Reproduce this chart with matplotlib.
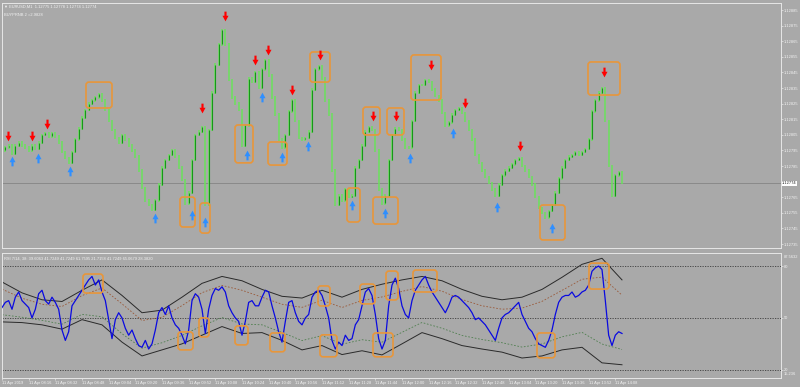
import numpy as np
import matplotlib
matplotlib.use('Agg')
import matplotlib.pyplot as plt
import matplotlib.transforms as mtransforms
from matplotlib.patches import FancyBboxPatch

plt.rcParams['font.family'] = 'Liberation Sans'

# EURUSD M1 chart, 11 Apr 2019, drawn as 2-minute bars
BASE = 1.12700          # prices below are stored in points above this
bar_min = np.arange(0, 374, 2)   # minutes after 08:00

close_pts = [
    95, 97, 98, 93, 98, 100, 98, 97, 95, 98,
    96, 100, 105, 106, 104, 106, 104, 100, 94, 90,
    87, 94, 102, 109, 116, 121, 125, 127, 129, 131,
    127, 121, 114, 108, 103, 100, 105, 102, 98, 95,
    91, 82, 71, 63, 60, 57, 63, 73, 84, 89,
    92, 95, 91, 84, 76, 61, 68, 89, 105, 107,
    110, 60, 108, 132, 150, 163, 172, 163, 140, 129,
    125, 121, 98, 111, 141, 139, 145, 135, 147, 153,
    143, 129, 118, 102, 97, 105, 120, 127, 114, 103,
    102, 103, 107, 134, 147, 149, 141, 127, 118, 82,
    60, 66, 63, 70, 65, 66, 84, 89, 98, 107,
    110, 108, 95, 70, 61, 66, 89, 105, 109, 108,
    102, 97, 97, 114, 132, 137, 137, 140, 139, 134,
    130, 127, 119, 111, 113, 118, 121, 122, 119, 114,
    108, 102, 92, 87, 82, 78, 74, 70, 66, 73,
    79, 82, 84, 86, 89, 90, 85, 82, 78, 73,
    65, 58, 55, 52, 56, 60, 68, 77, 84, 89,
    91, 92, 94, 92, 94, 96, 102, 120, 127, 132,
    135, 114, 85, 66, 79, 81, 74,
]

rsi = [
    56, 59, 60, 55, 62, 65, 60, 58, 56, 50,
    55, 64, 66, 60, 58, 62, 59, 55, 43, 37,
    42, 57, 60, 63, 66, 69, 72, 74, 69, 72,
    65, 60, 49, 38, 49, 53, 50, 44, 40, 43,
    38, 34, 33, 37, 32, 35, 43, 53, 56, 52,
    57, 50, 46, 44, 40, 35, 43, 60, 64, 62,
    55, 41, 55, 63, 67, 66, 68, 65, 57, 53,
    50, 48, 40, 48, 59, 60, 57, 57, 62, 66,
    65, 57, 50, 42, 36, 48, 59, 60, 53, 48,
    46, 50, 52, 62, 65, 66, 63, 57, 50, 37,
    32, 36, 34, 40, 37, 38, 46, 49, 57, 65,
    67, 63, 52, 38, 32, 37, 57, 69, 73, 67,
    57, 52, 50, 60, 66, 69, 72, 74, 69, 65,
    62, 59, 56, 53, 57, 62, 63, 62, 60, 58,
    56, 53, 49, 50, 48, 46, 43, 40, 37, 44,
    50, 52, 53, 55, 57, 59, 52, 48, 44, 42,
    38, 35, 34, 33, 37, 43, 52, 59, 62, 63,
    63, 65, 62, 63, 65, 66, 69, 77, 79, 80,
    78, 60, 40, 34, 40, 42, 41,
]

# envelope around the RSI line
band_min = np.arange(0, 384, 12)
band_up = [70.8, 64.5, 60.5, 59.5, 66, 72, 63, 53, 54.5, 62, 70, 74, 71.5, 66.5, 62.5, 61.5,
           66, 62, 66.5, 69.5, 72, 74, 71.5, 66.5, 62.5, 60.5, 62, 66.5, 73.5, 81, 84.5, 72]
band_lo = [47.7, 47.3, 46, 43.5, 49, 46, 36, 28, 31.5, 35, 40, 45, 41, 41.5, 37, 31.5,
           34, 28.8, 31, 28.6, 35, 41.5, 38, 34, 32, 30.2, 26.8, 28, 31.5, 33, 24, 22.9]

# signal arrows (minute, points)
sell_min = [3.6, 18, 27, 120, 133.8, 151.8, 159.6, 174, 190.8, 222.6, 236.4, 257.4, 277.8, 310.8, 361.2]
sell_pts = [104, 104, 112, 122, 181, 153, 159.4, 134, 156, 117, 117, 150, 125.4, 98, 145.3]
buy_min = [6, 21.6, 40.8, 91.8, 114, 121.8, 147, 156, 168, 183.6, 210, 229.8, 244.8, 270.6, 297, 330]
buy_pts = [88, 90, 82, 51.7, 53.6, 49, 92, 129, 91, 98, 60, 55, 90, 106, 59, 45]

# highlighted zones (start min, end min, low, high)
price_boxes = [
    (50.4, 66, 122.2, 138.8), (106.8, 115.8, 45.9, 65.1), (118.8, 124.8, 42, 61.3),
    (139.8, 150.6, 87, 111.3), (159.6, 171, 85.6, 100.4), (184.8, 196.8, 138.8, 158.1),
    (207, 214.8, 49.1, 70.9), (216.6, 226.8, 104.9, 122.8), (222.6, 237.6, 47.8, 65.1),
    (231, 241.2, 104.9, 122.2), (245.4, 263.4, 127.3, 156.2), (322.8, 337.8, 37.6, 60),
    (351.6, 370.8, 130.5, 151.7),
]
rsi_boxes = [
    (48.6, 60.6, 64.4, 75.4), (105.6, 114.6, 31.5, 41.9), (118.2, 124.2, 39, 50),
    (139.8, 147.6, 34.4, 45.4), (160.8, 169.8, 30.4, 41.3), (189.6, 196.8, 56.9, 68.5),
    (190.8, 201, 27.5, 40.2), (214.8, 223.8, 58.1, 69.6), (222.6, 234.6, 27.5, 41.3),
    (230.4, 237.6, 60.4, 77.1), (246.6, 261, 65, 77.7), (321, 331.8, 26.9, 41.3),
    (352.2, 364.2, 66.7, 81.7),
]

price_ticks = [1.12885, 1.12875, 1.12865, 1.12855, 1.12845, 1.12835, 1.12825, 1.12815,
               1.12805, 1.12795, 1.12785, 1.12765, 1.12755, 1.12745, 1.12735]
time_ticks = np.arange(0, 369, 16)
time_labels = ['11 Apr 2019', '11 Apr 08:16', '11 Apr 08:32', '11 Apr 08:48', '11 Apr 09:04',
               '11 Apr 09:20', '11 Apr 09:36', '11 Apr 09:52', '11 Apr 10:08', '11 Apr 10:24',
               '11 Apr 10:40', '11 Apr 10:56', '11 Apr 11:12', '11 Apr 11:28', '11 Apr 11:44',
               '11 Apr 12:00', '11 Apr 12:16', '11 Apr 12:32', '11 Apr 12:48', '11 Apr 13:04',
               '11 Apr 13:20', '11 Apr 13:36', '11 Apr 13:52', '11 Apr 14:08']

BG = '#a9a9a9'
FRAME = '#e6e6e6'
TXT = '#f2f2f2'
LIGHT = '#6ae25c'
DARK = '#17961a'
ORANGE = '#e8963a'
FS = 2.9

down_arrow = [(-0.22, 1), (0.22, 1), (0.22, 0.15), (0.62, 0.15), (0, -1), (-0.62, 0.15), (-0.22, 0.15), (-0.22, 1)]
up_arrow = [(x, -y) for x, y in down_arrow]


def style_axes(ax):
    ax.set_facecolor(BG)
    for s in ax.spines.values():
        s.set_color(FRAME)
        s.set_linewidth(0.7)
    ax.yaxis.tick_right()
    ax.tick_params(axis='y', colors=FRAME, labelcolor=TXT, labelsize=FS, length=1.5, width=0.5, pad=0.6)


def add_boxes(ax, boxes, scale=1.0, offset=0.0):
    # rounded boxes drawn in pixel space so the corners stay round
    for x0, x1, y0, y1 in boxes:
        (px0, py0), (px1, py1) = ax.transData.transform(
            [(x0, offset + y0 * scale), (x1, offset + y1 * scale)])
        ax.add_patch(FancyBboxPatch((px0, py0), px1 - px0, py1 - py0,
                                    boxstyle='round,pad=0,rounding_size=3',
                                    transform=mtransforms.IdentityTransform(),
                                    fill=False, ec=ORANGE, lw=1.2, zorder=5))


fig = plt.figure(figsize=(8, 3.87), dpi=100)
fig.patch.set_facecolor(BG)
ax = fig.add_axes([2 / 800, 1 - 248 / 387, 779 / 800, 245 / 387])
ax2 = fig.add_axes([2 / 800, 1 - 378 / 387, 779 / 800, 125 / 387])
xmax = 779 * 0.6

# ---- price panel
style_axes(ax)
close = BASE + np.array(close_pts) * 1e-5
open_ = np.r_[close[0], close[:-1]]
lo = np.minimum(open_, close)
hi = np.maximum(open_, close)
ax.vlines(bar_min, lo - 0.000008, hi + 0.000008, color=LIGHT, lw=1.1, zorder=2)
bull = close > open_
ax.vlines(bar_min[bull], open_[bull], close[bull], color=DARK, lw=0.8, zorder=3)
ax.axhline(close[-1], color='#8a8a8a', lw=0.7, zorder=1)

ax.plot(sell_min, BASE + np.array(sell_pts) * 1e-5, ls='none', marker=down_arrow,
        ms=7, color='#ff0000', mew=0, zorder=6)
ax.plot(buy_min, BASE + np.array(buy_pts) * 1e-5, ls='none', marker=up_arrow,
        ms=7, color='#2f8fff', mew=0, zorder=6)

ax.set_xlim(0, xmax)
ax.set_ylim(1.1273244, 1.1288949)
ax.set_xticks([])
ax.set_yticks(price_ticks)
ax.set_yticklabels([f'{p:.5f}' for p in price_ticks])
ax.text(1.0015, close[-1], f'{close[-1]:.5f}', transform=ax.get_yaxis_transform(),
        fontsize=FS, color='#202020', va='center', ha='left',
        bbox=dict(boxstyle='square,pad=0.15', fc='white', ec='none'))
ax.text(0.003, 0.992, '\u25bc EURUSD,M1  1.12775 1.12778 1.12774 1.12774', transform=ax.transAxes,
        fontsize=FS, color=TXT, va='top', ha='left', family=['Liberation Sans', 'DejaVu Sans'])
ax.text(0.003, 0.958, 'BUYPRNB 2 =2.9828', transform=ax.transAxes,
        fontsize=FS, color=TXT, va='top', ha='left')
add_boxes(ax, price_boxes, scale=1e-5, offset=BASE)

# ---- RSI panel
style_axes(ax2)
bu = np.array(band_up)
bl = np.array(band_lo)
ax2.plot(band_min, bu, color='#2a2a2a', lw=0.7, zorder=2)
ax2.plot(band_min, bl, color='#2a2a2a', lw=0.7, zorder=2)
ax2.plot(band_min, bu - 0.18 * (bu - bl), color='#9a5a3a', lw=0.6, ls=(0, (2, 2)), zorder=2)
ax2.plot(band_min, bl + 0.18 * (bu - bl), color='#4f7f4f', lw=0.6, ls=(0, (2, 2)), zorder=2)
for lvl in (80, 50, 20):
    ax2.axhline(lvl, color='#3c3c3c', lw=0.6, ls=(0, (1.5, 1.5)), zorder=1)
ax2.plot(bar_min, rsi, color='#0a0ae0', lw=0.9, zorder=3)

ax2.set_xlim(0, xmax)
ax2.set_ylim(15.236, 87.5632)
ax2.set_yticks([20, 50, 80])
ax2.set_yticklabels(['20', '50', '80'])
ax2.text(1.003, 0.985, '87.5632', transform=ax2.transAxes, fontsize=FS, color=TXT, va='top', ha='left')
ax2.text(1.003, 0.015, '15.236', transform=ax2.transAxes, fontsize=FS, color=TXT, va='bottom', ha='left')
ax2.text(0.003, 0.975, 'RSI 7/14, 38: 39.6063 41.7249 41.7249 61.7595 21.7158 41.7249 65.0679 28.3820',
         transform=ax2.transAxes, fontsize=FS, color=TXT, va='top', ha='left')
ax2.set_xticks(time_ticks)
ax2.set_xticklabels(time_labels, ha='left')
ax2.tick_params(axis='x', colors=FRAME, labelcolor=TXT, labelsize=FS, length=1.5, width=0.5, pad=0.8)
add_boxes(ax2, rsi_boxes)

fig.savefig('out.png', dpi=100, facecolor=BG)
